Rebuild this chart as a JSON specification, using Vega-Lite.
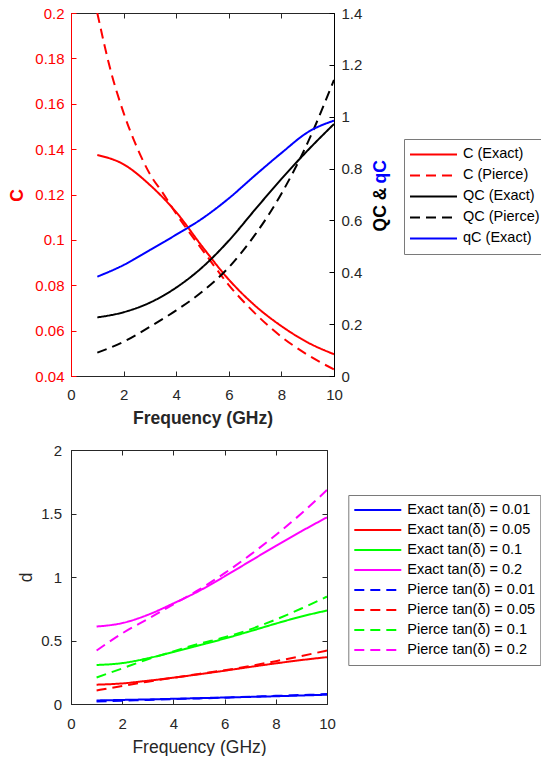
{
  "$schema": "https://vega.github.io/schema/vega-lite/v6.json",
  "background": "white",
  "padding": {"left": 8, "top": 5, "right": 0, "bottom": 0},
  "spacing": 15,
  "datasets": {
    "topC": [
      {"f": 1, "s": "C (Exact)", "v": 0.1374}, {"f": 2, "s": "C (Exact)", "v": 0.1333}, {"f": 3, "s": "C (Exact)", "v": 0.1242}, {"f": 4, "s": "C (Exact)", "v": 0.1122}, {"f": 5, "s": "C (Exact)", "v": 0.0969}, {"f": 6, "s": "C (Exact)", "v": 0.0825}, {"f": 7, "s": "C (Exact)", "v": 0.071}, {"f": 8, "s": "C (Exact)", "v": 0.062}, {"f": 9, "s": "C (Exact)", "v": 0.0548}, {"f": 10, "s": "C (Exact)", "v": 0.0496},
      {"f": 1, "s": "C (Pierce)", "v": 0.2}, {"f": 1.5, "s": "C (Pierce)", "v": 0.175}, {"f": 2, "s": "C (Pierce)", "v": 0.156}, {"f": 2.5, "s": "C (Pierce)", "v": 0.141}, {"f": 3, "s": "C (Pierce)", "v": 0.129}, {"f": 3.5, "s": "C (Pierce)", "v": 0.1205}, {"f": 4, "s": "C (Pierce)", "v": 0.1115}, {"f": 4.5, "s": "C (Pierce)", "v": 0.1033}, {"f": 5, "s": "C (Pierce)", "v": 0.0955}, {"f": 6, "s": "C (Pierce)", "v": 0.0801}, {"f": 7, "s": "C (Pierce)", "v": 0.0676}, {"f": 8, "s": "C (Pierce)", "v": 0.0573}, {"f": 9, "s": "C (Pierce)", "v": 0.0493}, {"f": 10, "s": "C (Pierce)", "v": 0.0429}
    ],
    "topQ": [
      {"f": 1, "s": "QC (Exact)", "v": 0.226}, {"f": 2, "s": "QC (Exact)", "v": 0.246}, {"f": 3, "s": "QC (Exact)", "v": 0.283}, {"f": 4, "s": "QC (Exact)", "v": 0.341}, {"f": 5, "s": "QC (Exact)", "v": 0.42}, {"f": 6, "s": "QC (Exact)", "v": 0.522}, {"f": 7, "s": "QC (Exact)", "v": 0.642}, {"f": 8, "s": "QC (Exact)", "v": 0.76}, {"f": 9, "s": "QC (Exact)", "v": 0.87}, {"f": 10, "s": "QC (Exact)", "v": 0.972},
      {"f": 1, "s": "QC (Pierce)", "v": 0.09}, {"f": 2, "s": "QC (Pierce)", "v": 0.132}, {"f": 3, "s": "QC (Pierce)", "v": 0.19}, {"f": 4, "s": "QC (Pierce)", "v": 0.253}, {"f": 5, "s": "QC (Pierce)", "v": 0.326}, {"f": 6, "s": "QC (Pierce)", "v": 0.419}, {"f": 7, "s": "QC (Pierce)", "v": 0.545}, {"f": 8, "s": "QC (Pierce)", "v": 0.703}, {"f": 9, "s": "QC (Pierce)", "v": 0.9}, {"f": 10, "s": "QC (Pierce)", "v": 1.142}
    ],
    "topq": [
      {"f": 1, "s": "qC (Exact)", "v": 0.383}, {"f": 2, "s": "qC (Exact)", "v": 0.428}, {"f": 3, "s": "qC (Exact)", "v": 0.486}, {"f": 4, "s": "qC (Exact)", "v": 0.545}, {"f": 5, "s": "qC (Exact)", "v": 0.608}, {"f": 6, "s": "qC (Exact)", "v": 0.685}, {"f": 7, "s": "qC (Exact)", "v": 0.774}, {"f": 8, "s": "qC (Exact)", "v": 0.86}, {"f": 9, "s": "qC (Exact)", "v": 0.94}, {"f": 10, "s": "qC (Exact)", "v": 0.985}
    ],
    "botE": [
      {"f": 1, "s": "Exact tan(δ) = 0.01", "v": 0.028}, {"f": 2, "s": "Exact tan(δ) = 0.01", "v": 0.032}, {"f": 3, "s": "Exact tan(δ) = 0.01", "v": 0.036}, {"f": 4, "s": "Exact tan(δ) = 0.01", "v": 0.041}, {"f": 5, "s": "Exact tan(δ) = 0.01", "v": 0.046}, {"f": 6, "s": "Exact tan(δ) = 0.01", "v": 0.051}, {"f": 7, "s": "Exact tan(δ) = 0.01", "v": 0.056}, {"f": 8, "s": "Exact tan(δ) = 0.01", "v": 0.061}, {"f": 9, "s": "Exact tan(δ) = 0.01", "v": 0.067}, {"f": 10, "s": "Exact tan(δ) = 0.01", "v": 0.073},
      {"f": 1, "s": "Exact tan(δ) = 0.05", "v": 0.152}, {"f": 2, "s": "Exact tan(δ) = 0.05", "v": 0.162}, {"f": 3, "s": "Exact tan(δ) = 0.05", "v": 0.183}, {"f": 4, "s": "Exact tan(δ) = 0.05", "v": 0.207}, {"f": 5, "s": "Exact tan(δ) = 0.05", "v": 0.234}, {"f": 6, "s": "Exact tan(δ) = 0.05", "v": 0.262}, {"f": 7, "s": "Exact tan(δ) = 0.05", "v": 0.292}, {"f": 8, "s": "Exact tan(δ) = 0.05", "v": 0.32}, {"f": 9, "s": "Exact tan(δ) = 0.05", "v": 0.346}, {"f": 10, "s": "Exact tan(δ) = 0.05", "v": 0.369},
      {"f": 1, "s": "Exact tan(δ) = 0.1", "v": 0.307}, {"f": 2, "s": "Exact tan(δ) = 0.1", "v": 0.322}, {"f": 3, "s": "Exact tan(δ) = 0.1", "v": 0.36}, {"f": 4, "s": "Exact tan(δ) = 0.1", "v": 0.41}, {"f": 5, "s": "Exact tan(δ) = 0.1", "v": 0.462}, {"f": 6, "s": "Exact tan(δ) = 0.1", "v": 0.515}, {"f": 7, "s": "Exact tan(δ) = 0.1", "v": 0.573}, {"f": 8, "s": "Exact tan(δ) = 0.1", "v": 0.633}, {"f": 9, "s": "Exact tan(δ) = 0.1", "v": 0.689}, {"f": 10, "s": "Exact tan(δ) = 0.1", "v": 0.736},
      {"f": 1, "s": "Exact tan(δ) = 0.2", "v": 0.61}, {"f": 2, "s": "Exact tan(δ) = 0.2", "v": 0.637}, {"f": 3, "s": "Exact tan(δ) = 0.2", "v": 0.702}, {"f": 4, "s": "Exact tan(δ) = 0.2", "v": 0.792}, {"f": 5, "s": "Exact tan(δ) = 0.2", "v": 0.89}, {"f": 6, "s": "Exact tan(δ) = 0.2", "v": 1.005}, {"f": 7, "s": "Exact tan(δ) = 0.2", "v": 1.125}, {"f": 8, "s": "Exact tan(δ) = 0.2", "v": 1.245}, {"f": 9, "s": "Exact tan(δ) = 0.2", "v": 1.36}, {"f": 10, "s": "Exact tan(δ) = 0.2", "v": 1.47}
    ],
    "botP": [
      {"f": 1, "s": "Pierce tan(δ) = 0.01", "v": 0.02}, {"f": 2, "s": "Pierce tan(δ) = 0.01", "v": 0.026}, {"f": 3, "s": "Pierce tan(δ) = 0.01", "v": 0.032}, {"f": 4, "s": "Pierce tan(δ) = 0.01", "v": 0.038}, {"f": 5, "s": "Pierce tan(δ) = 0.01", "v": 0.044}, {"f": 6, "s": "Pierce tan(δ) = 0.01", "v": 0.05}, {"f": 7, "s": "Pierce tan(δ) = 0.01", "v": 0.057}, {"f": 8, "s": "Pierce tan(δ) = 0.01", "v": 0.064}, {"f": 9, "s": "Pierce tan(δ) = 0.01", "v": 0.071}, {"f": 10, "s": "Pierce tan(δ) = 0.01", "v": 0.078},
      {"f": 1, "s": "Pierce tan(δ) = 0.05", "v": 0.107}, {"f": 2, "s": "Pierce tan(δ) = 0.05", "v": 0.142}, {"f": 3, "s": "Pierce tan(δ) = 0.05", "v": 0.176}, {"f": 4, "s": "Pierce tan(δ) = 0.05", "v": 0.207}, {"f": 5, "s": "Pierce tan(δ) = 0.05", "v": 0.237}, {"f": 6, "s": "Pierce tan(δ) = 0.05", "v": 0.266}, {"f": 7, "s": "Pierce tan(δ) = 0.05", "v": 0.3}, {"f": 8, "s": "Pierce tan(δ) = 0.05", "v": 0.337}, {"f": 9, "s": "Pierce tan(δ) = 0.05", "v": 0.378}, {"f": 10, "s": "Pierce tan(δ) = 0.05", "v": 0.421},
      {"f": 1, "s": "Pierce tan(δ) = 0.1", "v": 0.209}, {"f": 2, "s": "Pierce tan(δ) = 0.1", "v": 0.28}, {"f": 3, "s": "Pierce tan(δ) = 0.1", "v": 0.352}, {"f": 4, "s": "Pierce tan(δ) = 0.1", "v": 0.414}, {"f": 5, "s": "Pierce tan(δ) = 0.1", "v": 0.474}, {"f": 6, "s": "Pierce tan(δ) = 0.1", "v": 0.525}, {"f": 7, "s": "Pierce tan(δ) = 0.1", "v": 0.588}, {"f": 8, "s": "Pierce tan(δ) = 0.1", "v": 0.665}, {"f": 9, "s": "Pierce tan(δ) = 0.1", "v": 0.752}, {"f": 10, "s": "Pierce tan(δ) = 0.1", "v": 0.846},
      {"f": 1, "s": "Pierce tan(δ) = 0.2", "v": 0.421}, {"f": 2, "s": "Pierce tan(δ) = 0.2", "v": 0.556}, {"f": 3, "s": "Pierce tan(δ) = 0.2", "v": 0.67}, {"f": 4, "s": "Pierce tan(δ) = 0.2", "v": 0.785}, {"f": 5, "s": "Pierce tan(δ) = 0.2", "v": 0.9}, {"f": 6, "s": "Pierce tan(δ) = 0.2", "v": 1.03}, {"f": 7, "s": "Pierce tan(δ) = 0.2", "v": 1.174}, {"f": 8, "s": "Pierce tan(δ) = 0.2", "v": 1.331}, {"f": 9, "s": "Pierce tan(δ) = 0.2", "v": 1.5}, {"f": 10, "s": "Pierce tan(δ) = 0.2", "v": 1.685}
    ]
  },
  "resolve": {"scale": {"color": "independent", "strokeDash": "independent"}},
  "vconcat": [
    {
      "width": 263,
      "height": 363,
      "resolve": {"scale": {"y": "independent"}},
      "layer": [
        {
          "data": {"name": "topC"},
          "mark": {"type": "line", "strokeWidth": 2, "interpolate": "monotone", "clip": true},
          "encoding": {
            "x": {"field": "f", "type": "quantitative", "scale": {"domain": [0, 10], "nice": false},
              "axis": {"orient": "bottom", "values": [0, 2, 4, 6, 8, 10], "title": "Frequency (GHz)", "titleFontWeight": "bold", "labelPadding": 16.5, "titleY": 33, "titleBaseline": "top", "titleAlign": "center"}},
            "y": {"field": "v", "type": "quantitative", "scale": {"domain": [0.04, 0.2], "nice": false, "zero": false},
              "axis": {"orient": "left", "values": [0.04, 0.06, 0.08, 0.1, 0.12, 0.14, 0.16, 0.18, 0.2], "format": "~g", "title": "C", "titleFontWeight": "bold", "titleColor": "#ff0000", "labelColor": "#ff0000", "domainColor": "#ff0000", "tickColor": "#ff0000", "labelPadding": 12, "titleX": -53.5, "titleY": 182, "titleAngle": 270, "titleBaseline": "middle", "titleAlign": "center"}},
            "color": {"field": "s", "type": "nominal",
              "scale": {"domain": ["C (Exact)", "C (Pierce)", "QC (Exact)", "QC (Pierce)", "qC (Exact)"], "range": ["#ff0000", "#ff0000", "#000000", "#000000", "#0000ff"]},
              "legend": {"orient": "none", "legendX": 333, "legendY": 126, "title": null, "clipHeight": 20.8, "rowPadding": 0}},
            "strokeDash": {"field": "s", "type": "nominal",
              "scale": {"domain": ["C (Exact)", "C (Pierce)", "QC (Exact)", "QC (Pierce)", "qC (Exact)"], "range": [[1, 0], [10, 6], [1, 0], [10, 6], [1, 0]]},
              "legend": {"orient": "none", "legendX": 333, "legendY": 126, "title": null, "clipHeight": 20.8, "rowPadding": 0}}
          }
        },
        {
          "data": {"name": "topQ"},
          "mark": {"type": "line", "strokeWidth": 2, "interpolate": "monotone", "clip": true},
          "encoding": {
            "x": {"field": "f", "type": "quantitative", "scale": {"domain": [0, 10], "nice": false},
              "axis": {"orient": "top", "values": [0, 2, 4, 6, 8, 10], "labels": false, "domain": false, "title": null}},
            "y": {"field": "v", "type": "quantitative", "scale": {"domain": [0, 1.4], "nice": false},
              "axis": {"orient": "right", "values": [0, 0.2, 0.4, 0.6, 0.8, 1, 1.2, 1.4], "format": "~g", "title": "QC &", "titleFontWeight": "bold", "titleColor": "#000000", "labelColor": "#262626", "domainColor": "#000000", "tickColor": "#000000", "labelPadding": 12, "titleX": 46, "titleY": 196, "titleAngle": 270, "titleBaseline": "middle", "titleAlign": "center"}},
            "color": {"field": "s", "type": "nominal",
              "scale": {"domain": ["C (Exact)", "C (Pierce)", "QC (Exact)", "QC (Pierce)", "qC (Exact)"], "range": ["#ff0000", "#ff0000", "#000000", "#000000", "#0000ff"]},
              "legend": {"orient": "none", "legendX": 333, "legendY": 126, "title": null, "clipHeight": 20.8, "rowPadding": 0}},
            "strokeDash": {"field": "s", "type": "nominal",
              "scale": {"domain": ["C (Exact)", "C (Pierce)", "QC (Exact)", "QC (Pierce)", "qC (Exact)"], "range": [[1, 0], [10, 6], [1, 0], [10, 6], [1, 0]]},
              "legend": {"orient": "none", "legendX": 333, "legendY": 126, "title": null, "clipHeight": 20.8, "rowPadding": 0}}
          }
        },
        {
          "data": {"name": "topq"},
          "mark": {"type": "line", "strokeWidth": 2, "interpolate": "monotone", "clip": true},
          "encoding": {
            "x": {"field": "f", "type": "quantitative", "scale": {"domain": [0, 10], "nice": false}, "axis": null},
            "y": {"field": "v", "type": "quantitative", "scale": {"domain": [0, 1.4], "nice": false},
              "axis": {"orient": "right", "labels": false, "ticks": false, "domain": false, "title": "qC", "titleFontWeight": "bold", "titleColor": "#0000ff", "titleX": 46, "titleY": 158.3, "titleAngle": 270, "titleBaseline": "middle", "titleAlign": "center"}},
            "color": {"field": "s", "type": "nominal",
              "scale": {"domain": ["C (Exact)", "C (Pierce)", "QC (Exact)", "QC (Pierce)", "qC (Exact)"], "range": ["#ff0000", "#ff0000", "#000000", "#000000", "#0000ff"]},
              "legend": {"orient": "none", "legendX": 333, "legendY": 126, "title": null, "clipHeight": 20.8, "rowPadding": 0}},
            "strokeDash": {"field": "s", "type": "nominal",
              "scale": {"domain": ["C (Exact)", "C (Pierce)", "QC (Exact)", "QC (Pierce)", "qC (Exact)"], "range": [[1, 0], [10, 6], [1, 0], [10, 6], [1, 0]]},
              "legend": {"orient": "none", "legendX": 333, "legendY": 126, "title": null, "clipHeight": 20.8, "rowPadding": 0}}
          }
        }
      ]
    },
    {
      "width": 256,
      "height": 254,
      "layer": [
        {
          "data": {"name": "botE"},
          "mark": {"type": "line", "strokeWidth": 2, "interpolate": "monotone", "clip": true},
          "encoding": {
            "x": {"field": "f", "type": "quantitative", "scale": {"domain": [0, 10], "nice": false},
              "axis": {"orient": "bottom", "values": [0, 2, 4, 6, 8, 10], "title": "Frequency (GHz)", "labelPadding": 17, "titleY": 34, "titleBaseline": "top", "titleAlign": "center"}},
            "y": {"field": "v", "type": "quantitative", "scale": {"domain": [0, 2], "nice": false},
              "axis": {"orient": "left", "values": [0, 0.5, 1, 1.5, 2], "format": "~g", "title": "d", "labelPadding": 14.4, "titleX": -44.4, "titleY": 127, "titleAngle": 270, "titleBaseline": "middle", "titleAlign": "center"}},
            "color": {"field": "s", "type": "nominal",
              "scale": {"domain": ["Exact tan(δ) = 0.01", "Exact tan(δ) = 0.05", "Exact tan(δ) = 0.1", "Exact tan(δ) = 0.2", "Pierce tan(δ) = 0.01", "Pierce tan(δ) = 0.05", "Pierce tan(δ) = 0.1", "Pierce tan(δ) = 0.2"], "range": ["#0000ff", "#ff0000", "#00ff00", "#ff00ff", "#0000ff", "#ff0000", "#00ff00", "#ff00ff"]},
              "legend": {"orient": "none", "legendX": 277.3, "legendY": 45, "title": null, "clipHeight": 20, "rowPadding": 0}},
            "strokeDash": {"field": "s", "type": "nominal",
              "scale": {"domain": ["Exact tan(δ) = 0.01", "Exact tan(δ) = 0.05", "Exact tan(δ) = 0.1", "Exact tan(δ) = 0.2", "Pierce tan(δ) = 0.01", "Pierce tan(δ) = 0.05", "Pierce tan(δ) = 0.1", "Pierce tan(δ) = 0.2"], "range": [[1, 0], [1, 0], [1, 0], [1, 0], [10, 6], [10, 6], [10, 6], [10, 6]]},
              "legend": {"orient": "none", "legendX": 277.3, "legendY": 45, "title": null, "clipHeight": 20, "rowPadding": 0}}
          }
        },
        {
          "data": {"name": "botP"},
          "mark": {"type": "line", "strokeWidth": 2, "interpolate": "monotone", "clip": true},
          "encoding": {
            "x": {"field": "f", "type": "quantitative", "scale": {"domain": [0, 10], "nice": false},
              "axis": {"orient": "top", "values": [0, 2, 4, 6, 8, 10], "labels": false, "domain": false, "title": null}},
            "y": {"field": "v", "type": "quantitative", "scale": {"domain": [0, 2], "nice": false},
              "axis": {"orient": "right", "values": [0, 0.5, 1, 1.5, 2], "labels": false, "domain": false, "title": null}},
            "color": {"field": "s", "type": "nominal",
              "scale": {"domain": ["Exact tan(δ) = 0.01", "Exact tan(δ) = 0.05", "Exact tan(δ) = 0.1", "Exact tan(δ) = 0.2", "Pierce tan(δ) = 0.01", "Pierce tan(δ) = 0.05", "Pierce tan(δ) = 0.1", "Pierce tan(δ) = 0.2"], "range": ["#0000ff", "#ff0000", "#00ff00", "#ff00ff", "#0000ff", "#ff0000", "#00ff00", "#ff00ff"]},
              "legend": {"orient": "none", "legendX": 277.3, "legendY": 45, "title": null, "clipHeight": 20, "rowPadding": 0}},
            "strokeDash": {"field": "s", "type": "nominal",
              "scale": {"domain": ["Exact tan(δ) = 0.01", "Exact tan(δ) = 0.05", "Exact tan(δ) = 0.1", "Exact tan(δ) = 0.2", "Pierce tan(δ) = 0.01", "Pierce tan(δ) = 0.05", "Pierce tan(δ) = 0.1", "Pierce tan(δ) = 0.2"], "range": [[1, 0], [1, 0], [1, 0], [1, 0], [10, 6], [10, 6], [10, 6], [10, 6]]},
              "legend": {"orient": "none", "legendX": 277.3, "legendY": 45, "title": null, "clipHeight": 20, "rowPadding": 0}}
          }
        }
      ]
    }
  ],
  "config": {
    "view": {"stroke": "#262626", "strokeWidth": 1},
    "axis": {"grid": false, "labelFont": "Liberation Sans", "labelFontSize": 15, "titleFont": "Liberation Sans", "titleFontSize": 17.5, "titleFontWeight": "normal", "labelColor": "#262626", "titleColor": "#262626", "domainColor": "#262626", "tickColor": "#262626", "tickSize": -5, "labelFlush": false, "labelOverlap": false},
    "legend": {"labelFont": "Liberation Sans", "labelFontSize": 14.5, "labelColor": "#000000", "symbolType": "stroke", "symbolSize": 2209, "symbolStrokeWidth": 2, "strokeColor": "#7a7a7a", "fillColor": "#ffffff", "padding": 5, "labelOffset": 5, "labelLimit": 300}
  }
}
